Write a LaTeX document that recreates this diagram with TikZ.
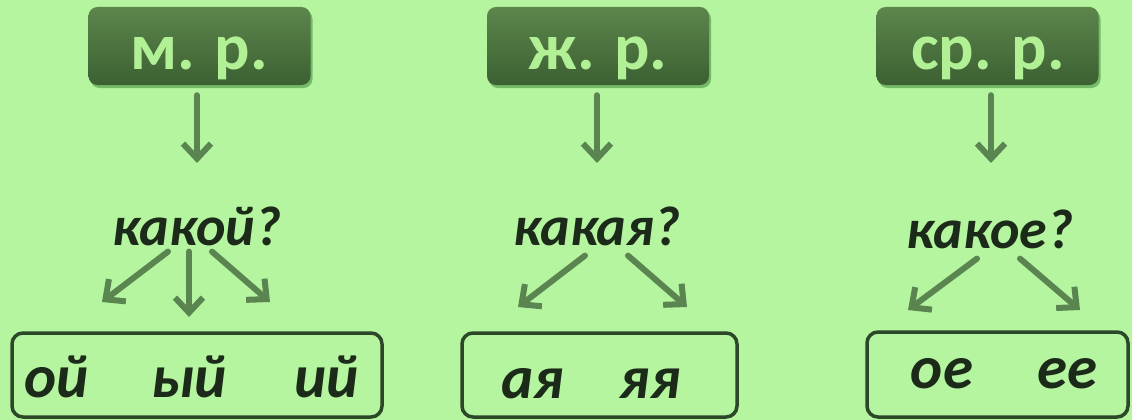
\documentclass[tikz,border=0pt]{standalone}
\usepackage{fontspec}
\setmainfont{Carlito}
\usetikzlibrary{arrows.meta,shadows,calc}
\definecolor{bg}{RGB}{181,245,160}
\definecolor{hdtop}{RGB}{92,134,76}
\definecolor{hdbot}{RGB}{60,96,50}
\definecolor{hdtext}{RGB}{178,240,150}
\definecolor{arr}{RGB}{90,133,80}
\definecolor{boxline}{RGB}{45,72,40}
\definecolor{ink}{RGB}{28,42,25}
\tikzset{
  header/.style={rounded corners=9pt, top color=hdtop, bottom color=hdbot, draw=none,
    drop shadow={shadow xshift=2pt, shadow yshift=-3pt, opacity=0.35, fill=black!70!green},
    minimum width=222pt, minimum height=78pt, inner sep=0pt},
  headtext/.style={font=\fontsize{66}{66}\selectfont\bfseries, text=hdtext, inner sep=0pt, anchor=base},
  question/.style={font=\fontsize{56}{56}\selectfont\bfseries\itshape, text=ink, inner sep=0pt, anchor=base},
  endbox/.style={draw=boxline, line width=3.5pt, rounded corners=11pt, inner sep=0pt},
  ending/.style={font=\fontsize{61}{61}\selectfont\bfseries\itshape, text=ink, inner sep=0pt, anchor=base},
  arrow/.style={draw=arr, line width=6pt, -{Straight Barb[length=15pt,width=28pt,line width=6pt]}, line cap=round},
}
\begin{document}
\begin{tikzpicture}[x=1pt,y=-1pt]
\useasboundingbox (0,0) rectangle (1132,420);
\fill[bg] (0,0) rectangle (1132,420);

% headers
\node[header] (h1) at (199.5,46) {};
\node[header] (h2) at (598,46) {};
\node[header] (h3) at (987.5,46) {};
\node[headtext] (ht1) at (199,70) {м. р.};
\node[headtext] (ht2) at (598,70) {ж. р.};
\node[headtext] (ht3) at (988,70) {ср. р.};

% questions
\node[question] (q1) at (197,245) {какой?};
\node[question] (q2) at (597,245) {какая?};
\node[question] (q3) at (990,248) {какое?};

% ending boxes
\node[endbox, minimum width=370pt, minimum height=84pt] (b1) at (197,375) {};
\node[endbox, minimum width=275pt, minimum height=84pt] (b2) at (599.5,375) {};
\node[endbox, minimum width=261pt, minimum height=85pt] (b3) at (997.5,374.5) {};

\node[ending] (e11) at (57,397) {ой};
\node[ending] (e12) at (189,397) {ый};
\node[ending] (e13) at (327,397) {ий};
\node[ending] (e21) at (533,398) {ая};
\node[ending] (e22) at (650,398) {яя};
\node[ending] (e31) at (942,388) {ое};
\node[ending] (e32) at (1067,388) {ее};

% arrow ends
\coordinate (t11) at (102,302);
\coordinate (t12) at (189,317);
\coordinate (t13) at (270,302);
\coordinate (t21) at (518,307);
\coordinate (t22) at (687,307);
\coordinate (t31) at (908,310);
\coordinate (t32) at (1080,310);

% vertical arrows
\draw[arrow, shorten <=10pt] (h1.south -| 197,0) -- (197,163);
\draw[arrow, shorten <=10pt] (h2.south -| 597,0) -- (597,163);
\draw[arrow, shorten <=10pt] (h3.south -| 991,0) -- (991,163);

% branch arrows
\draw[arrow] ($(q1.south)+(-29,6)$) -- (t11);
\draw[arrow] ($(q1.south)+(-8,6)$) -- (t12);
\draw[arrow] ($(q1.south)+(15,6)$) -- (t13);
\draw[arrow] ($(q2.south)+(-12,10)$) -- (t21);
\draw[arrow] ($(q2.south)+(31,10)$) -- (t22);
\draw[arrow] ($(q3.south)+(-13,10)$) -- (t31);
\draw[arrow] ($(q3.south)+(30,10)$) -- (t32);
\end{tikzpicture}
\end{document}
